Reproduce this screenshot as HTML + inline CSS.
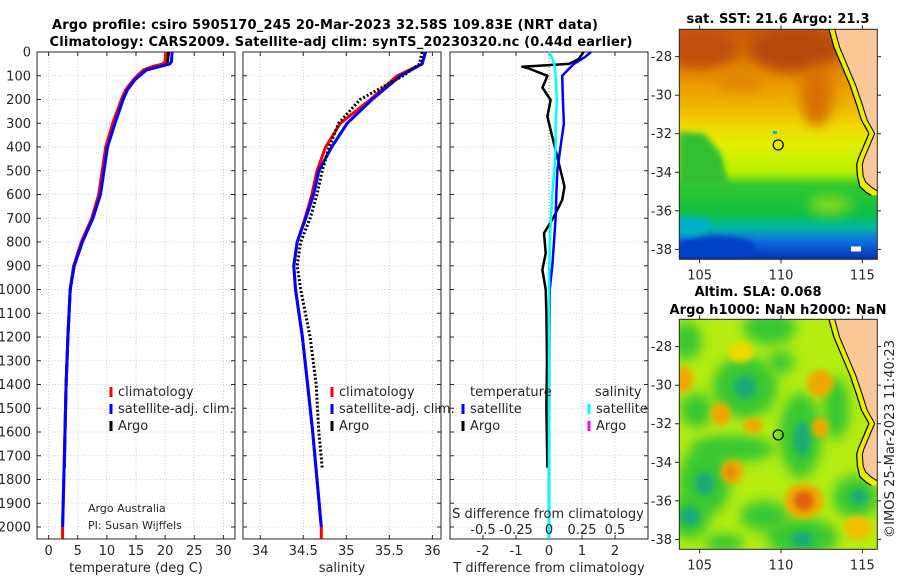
<!DOCTYPE html>
<html><head><meta charset="utf-8"><style>
html,body{margin:0;padding:0;background:#fff}
svg{display:block}
text{font-family:"DejaVu Sans","Liberation Sans",sans-serif;fill:#262626}
.b{font-weight:bold;fill:#000}
</style></head><body>
<svg id="s" width="900" height="580" viewBox="0 0 900 580" xmlns="http://www.w3.org/2000/svg">
<defs>
<filter id="bl6" x="-50%" y="-50%" width="200%" height="200%"><feGaussianBlur stdDeviation="6"/></filter>
<filter id="bl3" x="-50%" y="-50%" width="200%" height="200%"><feGaussianBlur stdDeviation="3"/></filter>
<clipPath id="c1"><rect x="679.3" y="29.3" width="198" height="230"/></clipPath>
<clipPath id="c2"><rect x="679.3" y="319.3" width="198" height="230"/></clipPath>
<linearGradient id="sstg" x1="0" y1="0" x2="0" y2="1">
<stop offset="0" stop-color="#c85a10"/><stop offset="0.1" stop-color="#d87000"/><stop offset="0.22" stop-color="#e89400"/>
<stop offset="0.33" stop-color="#f0b400"/><stop offset="0.42" stop-color="#f0d800"/><stop offset="0.5" stop-color="#e0f000"/>
<stop offset="0.62" stop-color="#b8f000"/><stop offset="0.68" stop-color="#30c830"/><stop offset="0.8" stop-color="#10c040"/>
<stop offset="0.86" stop-color="#00b8a0"/><stop offset="0.92" stop-color="#1070e0"/><stop offset="1" stop-color="#0030b0"/>
</linearGradient>
</defs>
<g id="titles">
<text class="b" x="325" y="29" text-anchor="middle" font-size="13" textLength="546">Argo profile: csiro 5905170_245 20-Mar-2023 32.58S 109.83E (NRT data)</text>
<text class="b" x="341" y="46" text-anchor="middle" font-size="13" textLength="583">Climatology: CARS2009. Satellite-adj clim: synTS_20230320.nc (0.44d earlier)</text>
<text class="b" x="778" y="23" text-anchor="middle" font-size="13" textLength="183">sat. SST: 21.6 Argo: 21.3</text>
<text class="b" x="758" y="296" text-anchor="middle" font-size="13" textLength="127">Altim. SLA: 0.068</text>
<text class="b" x="778" y="314" text-anchor="middle" font-size="13" textLength="217">Argo h1000: NaN h2000: NaN</text>
<text x="0" y="0" font-size="13" text-anchor="middle" transform="translate(894,439) rotate(-90)" textLength="198">©IMOS 25-Mar-2023 11:40:23</text>
<text x="88" y="512" font-size="11">Argo Australia</text>
<text x="88" y="529" font-size="11">PI: Susan Wijffels</text>
</g>
</svg>
<script>
// ---- profile data (depth m) ----
const depthT=[0,40,50,60,76,100,118,160,200,300,400,500,600,700,800,900,1000,1200,1400,1600,1800,2000];
const climT=[20.1,20.0,19.6,18.0,16.3,15.2,14.5,13.2,12.5,11.0,9.8,9.2,8.6,7.4,5.6,4.3,3.7,3.3,3.0,2.8,2.6,2.4];
const satT=[21.2,21.1,20.8,19.2,16.8,15.6,14.8,13.5,12.8,11.4,10.1,9.5,8.9,7.6,5.8,4.4,3.7,3.3,3.0,2.8,2.6,2.4];
const argoDepthT=[0,40,50,60,76,100,118,160,200,300,400,500,600,700,800,900,1000,1200,1400,1600,1750];
const argoT=[20.6,20.4,19.8,18.0,16.3,15.2,14.6,13.3,12.6,11.1,9.9,9.4,8.8,7.5,5.7,4.3,3.7,3.3,3.0,2.8,2.7];
const depthS=[0,50,100,200,300,400,500,600,700,800,900,1000,1200,1400,1600,1800,2000];
const climS=[35.92,35.88,35.59,35.28,34.93,34.76,34.66,34.60,34.52,34.43,34.39,34.41,34.49,34.55,34.61,34.66,34.71];
const satS=[35.92,35.88,35.63,35.30,35.01,34.83,34.68,34.62,34.53,34.43,34.39,34.41,34.49,34.55,34.61,34.66,34.71];
const argoDepthS=[0,50,100,200,300,400,500,600,700,800,900,1000,1200,1400,1600,1750];
const argoS=[35.88,35.85,35.66,35.16,34.91,34.80,34.72,34.66,34.58,34.47,34.43,34.47,34.58,34.65,34.68,34.72];
const diffDepth=[0,20,50,100,200,300,400,500,600,700,800,900,1000,1200,1500,1800,2050];
const satTdiff=[1.27,1.1,0.75,0.4,0.42,0.45,0.35,0.25,0.22,0.2,0.15,0.1,0.02,0.01,0,0,0];
const satSdiff=[0,0.02,0.04,0.05,0.06,0.05,0.05,0.04,0.025,0.015,0.005,0.002,0,0,0,0,0];
const argoDiffDepth=[0,30,50,62,70,100,118,150,202,272,328,413,497,567,623,693,763,847,917,1000,1100,1300,1500,1750];
const argoTdiff=[1.05,0.9,0.6,-0.81,-0.6,-0.05,-0.1,-0.2,0.05,-0.05,0.05,0.2,0.35,0.47,0.4,0.15,-0.15,-0.1,-0.2,-0.1,-0.08,-0.06,-0.08,-0.05];
const depthTicks=[0,100,200,300,400,500,600,700,800,900,1000,1100,1200,1300,1400,1500,1600,1700,1800,1900,2000];
const tTicks=[0,5,10,15,20,25,30];
const sTicks=[34,34.5,35,35.5,36];
const dTicks=[-2,-1,0,1,2];
const sdTickLabels=["-0.5","-0.25","0","0.25","0.5"];
const sdTickVals=[-0.5,-0.25,0,0.25,0.5];
// map data
const floatLon=109.83, floatLat=-32.58;
const lonTicks=[105,110,115];
const latTicks=[-28,-30,-32,-34,-36,-38];
const coastLon=[113.3,113.6,114.1,114.6,115.0,115.3,115.7,115.75,115.5,115.1,115.0,115.05,115.2,115.6,115.9];
const coastLat=[-26.58,-27.5,-28.5,-29.5,-30.5,-31.3,-31.9,-32.0,-32.5,-33.3,-33.6,-34.2,-34.5,-34.8,-34.95];

const NS='http://www.w3.org/2000/svg';
const svg=document.getElementById('s');
function mk(tag,attrs,parent){const e=document.createElementNS(NS,tag);for(const k in attrs)e.setAttribute(k,attrs[k]);(parent||svg).appendChild(e);return e;}
const Y0=52, PXM=0.2375, YB=539;
function yD(d){return Y0+d*PXM;}
const panels=[
 {x0:37,x1:235,lo:-2,hi:32,ticks:tTicks,name:'temperature-panel',label:'temperature (deg C)'},
 {x0:243,x1:441,lo:33.8,hi:36.1,ticks:sTicks,name:'salinity-panel',label:'salinity'},
 {x0:450,x1:648,lo:-3,hi:3,ticks:dTicks,name:'difference-panel',label:'T difference from climatology'}];
function xf(p){return v=>p.x0+(v-p.lo)/(p.hi-p.lo)*(p.x1-p.x0);}
panels.forEach((p,i)=>{
 const g=mk('g',{});
 
 
 const X=xf(p);
 depthTicks.forEach(d=>{if(d>0){const l=mk('line',{x1:p.x0,x2:p.x1,y1:yD(d),y2:yD(d),stroke:'#c0c4dc','stroke-width':0.8,'stroke-dasharray':'1,2'},g);
  
  }
  mk('line',{x1:p.x0,x2:p.x0+4,y1:yD(d),y2:yD(d),stroke:'#262626'},g);
  mk('line',{x1:p.x1-4,x2:p.x1,y1:yD(d),y2:yD(d),stroke:'#262626'},g);
  if(i===0){const t=mk('text',{x:31,y:yD(d)+4.5,'text-anchor':'end','font-size':13},g);t.textContent=d;
   
   }
 });
 p.ticks.forEach((v,j)=>{const x=X(v);
  const l=mk('line',{x1:x,x2:x,y1:Y0,y2:YB,stroke:'#c0c4dc','stroke-width':0.8,'stroke-dasharray':'1,2'},g);
  
  
  mk('line',{x1:x,x2:x,y1:YB,y2:YB-4,stroke:'#262626'},g);
  mk('line',{x1:x,x2:x,y1:Y0,y2:Y0+4,stroke:'#262626'},g);
  const t=mk('text',{x:x,y:555,'text-anchor':'middle','font-size':13},g);t.textContent=String(v);
  
  
 });
 const r=mk('rect',{x:p.x0,y:Y0,width:p.x1-p.x0,height:YB-Y0,fill:'none',stroke:'#262626','stroke-width':1},g);
 
 
 const t=mk('text',{x:(p.x0+p.x1)/2,y:572,'text-anchor':'middle','font-size':13},g);t.textContent=p.label;
 
 
 p.g=g;p.X=X;
});
function line(p,vals,deps,col,w,dash,name){
 const pts=vals.map((v,k)=>p.X(v).toFixed(1)+','+yD(deps[k]).toFixed(1)).join(' ');
 const a={points:pts,fill:'none',stroke:col,'stroke-width':w,'stroke-linejoin':'round'};
 if(dash)a['stroke-dasharray']=dash;
 const e=mk('polyline',a,p.g);
 
 
}
const P=panels;
line(P[0],argoT,argoDepthT,'#000',3,null,'argo-temperature-line');
line(P[0],climT.concat([climT[climT.length-1]]),depthT.concat([2050]),'#ff0000',3,null,'climatology-temperature-line');
line(P[0],satT,depthT,'#0000ff',3,null,'satellite-temperature-line');
line(P[1],climS.concat([climS[climS.length-1]]),depthS.concat([2050]),'#ff0000',3,null,'climatology-salinity-line');
line(P[1],satS,depthS,'#0000ff',3,null,'satellite-salinity-line');
line(P[1],argoS,argoDepthS,'#000',3,'2,2','argo-salinity-line');
{const z=mk('line',{x1:P[2].X(0),x2:P[2].X(0),y1:yD(0),y2:yD(1750),stroke:'#888','stroke-width':1,'stroke-dasharray':'1,2'},P[2].g);
 
 }
line(P[2],argoTdiff,argoDiffDepth,'#000',2.5,null,'argo-t-diff-line');
line(P[2],satTdiff,diffDepth,'#0000ff',2.5,null,'satellite-t-diff-line');
line(P[2],satSdiff.map(v=>v*4),diffDepth,'#00ffff',2.5,null,'satellite-s-diff-line');
{const t=mk('text',{x:548,y:518,'text-anchor':'middle','font-size':13},P[2].g);t.textContent='S difference from climatology';
 
 }
sdTickVals.forEach((v,j)=>{const t=mk('text',{x:P[2].X(v*4),y:534,'text-anchor':'middle','font-size':13},P[2].g);t.textContent=sdTickLabels[j];
 
 });
function leg(x,y,col,label,name){const g=mk('g',{});
 
 
 mk('line',{x1:x,x2:x,y1:y-9,y2:y+1,stroke:col,'stroke-width':3},g);
 const t=mk('text',{x:x+7,y:y,'font-size':13},g);t.textContent=label;}
leg(111,396,'#ff0000','climatology','legend-climatology');
leg(111,413,'#0000ff','satellite-adj. clim.','legend-satellite-adj');
leg(111,430,'#000','Argo','legend-argo');
leg(332,396,'#ff0000','climatology','legend-climatology-salinity');
leg(332,413,'#0000ff','satellite-adj. clim.','legend-satellite-adj-salinity');
leg(332,430,'#000','Argo','legend-argo-salinity');
{const t=mk('text',{x:470,y:396,'font-size':13});t.textContent='temperature';
 
 
 const u=mk('text',{x:595,y:396,'font-size':13});u.textContent='salinity';
 
 }
leg(463,413,'#0000ff','satellite','legend-t-satellite');
leg(463,430,'#000','Argo','legend-t-argo');
leg(589,413,'#00ffff','satellite','legend-s-satellite');
leg(589,430,'#ff00ff','Argo','legend-s-argo');

// ---- maps ----
function mapAx(top){return {lx:lon=>679.3+(lon-103.75)*16.27, ly:lat=>top+(-26.58-lat)*19.27};}
function coast(g,m){
 const pts=coastLon.map((lo,k)=>m.lx(lo)+','+m.ly(coastLat[k]));
 const sh=coastLon.map((lo,k)=>m.lx(lo-0.35)+','+m.ly(coastLat[k]-(k>11?0.25:0)));
 const strip=mk('polygon',{points:sh.join(' ')+' '+m.lx(116.5)+','+m.ly(-35.2)+' '+m.lx(116.5)+','+m.ly(-26.58),fill:'#e8f000'},g);
 
 
 const land=mk('polygon',{points:pts.join(' ')+' '+m.lx(116.5)+','+m.ly(-34.95)+' '+m.lx(116.5)+','+m.ly(-26.58),fill:'#f9c896'},g);
 
 
 mk('polyline',{points:sh.join(' '),fill:'none',stroke:'#000','stroke-width':1.2},g);
 const c=mk('polyline',{points:pts.join(' '),fill:'none',stroke:'#000','stroke-width':1},g);
 
 
}
function frame(g,m,top){
 const r=mk('rect',{x:679.3,y:top,width:198,height:230,fill:'none',stroke:'#262626'},g);
 
 
 latTicks.forEach(la=>{const y=m.ly(la);
  mk('line',{x1:679.3,x2:675,y1:y,y2:y,stroke:'#262626'},g);
  mk('line',{x1:877.3,x2:881,y1:y,y2:y,stroke:'#262626'},g);
  const t=mk('text',{x:672,y:y+4.5,'text-anchor':'end','font-size':13},g);t.textContent=String(la);
  
  });
 lonTicks.forEach(lo=>{const x=m.lx(lo);
  mk('line',{x1:x,x2:x,y1:top+230,y2:top+234,stroke:'#262626'},g);
  mk('line',{x1:x,x2:x,y1:top,y2:top-4,stroke:'#262626'},g);
  const t=mk('text',{x:x,y:top+250,'text-anchor':'middle','font-size':13},g);t.textContent=String(lo);
  
  });
 const c=mk('circle',{cx:m.lx(floatLon),cy:m.ly(floatLat),r:5,fill:'none',stroke:'#000','stroke-width':1.2},g);
 
 
}
function blob(g,m,lon,lat,rx,ry,col,f){mk('ellipse',{cx:m.lx(lon),cy:m.ly(lat),rx:rx*16.27,ry:ry*19.27,fill:col,filter:'url(#'+f+')'},g);}
// SST map
{const m=mapAx(29.3);
 const g=mk('g',{});
 
 
 const gi=mk('g',{'clip-path':'url(#c1)'},g);
 mk('rect',{x:679.3,y:29.3,width:198,height:230,fill:'url(#sstg)'},gi);
 blob(gi,m,105,-27.6,2.4,1.0,'#c05010','bl6');
 blob(gi,m,110.8,-27.6,2.8,1.2,'#b84810','bl6');
 blob(gi,m,112.2,-30.0,1.0,1.6,'#d87000','bl6');
 blob(gi,m,107.5,-29.2,1.5,0.6,'#e08800','bl6');
 mk('polygon',{points:[[103.7,-31.9],[105.3,-32.0],[106.3,-33.0],[106.8,-34.7],[103.7,-34.7]].map(q=>m.lx(q[0])+','+m.ly(q[1])).join(' '),fill:'#30c030',filter:'url(#bl3)'},gi);
 blob(gi,m,113,-35.7,1.3,0.5,'#80d820','bl6');
 blob(gi,m,106,-37.9,2.5,0.6,'#0040c8','bl3');
 blob(gi,m,104.5,-36.8,1.2,0.5,'#00b0c8','bl3');
 mk('rect',{x:m.lx(114.3),y:m.ly(-37.85),width:10,height:5,fill:'#fff'},gi);
 mk('rect',{x:m.lx(109.5),y:m.ly(-31.85),width:4,height:3,fill:'#00b8c0'},gi);
 coast(gi,m);
 frame(g,m,29.3);
}
// SLA map
{const m=mapAx(319.3);
 const g=mk('g',{});
 
 
 const gi=mk('g',{'clip-path':'url(#c2)'},g);
 mk('rect',{x:679.3,y:319.3,width:198,height:230,fill:'#b4ec10'},gi);
 const G='#38c830',T='#1caa78',O='#f0a800',R='#e06010';
 [[107.8,-30.1,2.0,1.6,G],[105.3,-35,1.6,1.8,G],[104.4,-36.8,1.2,1.2,G],[111.3,-37.9,2.2,1.0,G],[111.2,-32.6,1.3,2.2,G],
  [109.3,-27,1.6,0.9,G],[104.2,-27.7,0.9,1.0,G],[107,-33.3,2.6,0.7,G],[114.6,-35.8,1.4,1.1,G],[113.4,-31.2,0.8,1.6,G],[104.8,-31.3,1.0,0.9,G],[109,-36.8,1.5,0.8,G],[106.5,-38.2,1.2,0.5,G],[110,-28.8,0.8,0.6,G]
 ].forEach(b=>blob(gi,m,b[0],b[1],b[2],b[3],b[4],'bl6'));
 [[107.8,-30.1,0.7,0.6,T],[105.3,-35.1,0.6,0.6,T],[104.4,-36.8,0.6,0.5,T],[111.3,-38,0.7,0.4,T],[111.3,-32.8,0.5,0.9,T],[114.8,-35.8,0.5,0.4,T]
 ].forEach(b=>blob(gi,m,b[0],b[1],b[2],b[3],b[4],'bl3'));
 [[104,-29.7,0.6,0.7,O],[106.3,-31.5,0.6,0.6,O],[108.3,-32.1,0.6,0.4,O],[107,-34.5,0.7,0.6,O],[111.4,-36,1.2,0.9,O],[112.4,-29.9,0.8,0.7,O],[112.4,-32.2,0.5,0.5,O],[107.5,-28.3,0.8,0.5,'#f0d800'],[114.7,-37.4,0.9,0.6,'#f0c000']
 ].forEach(b=>blob(gi,m,b[0],b[1],b[2],b[3],b[4],'bl3'));
 blob(gi,m,111.4,-36,0.6,0.5,R,'bl3');
 blob(gi,m,106.9,-34.5,0.3,0.3,'#e88010','bl3');
 coast(gi,m);
 frame(g,m,319.3);
}
</script>
</body></html>
